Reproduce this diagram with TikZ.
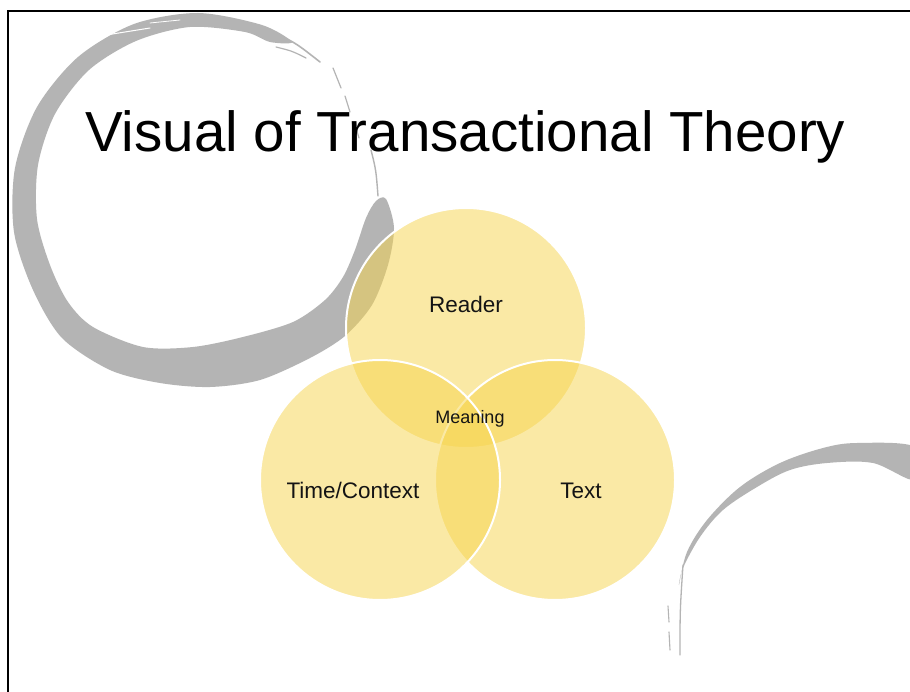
\documentclass[tikz,border=0pt]{standalone}
\usepackage{fontspec}
\setmainfont{Liberation Sans}
\definecolor{ringgray}{RGB}{180,180,180}
\definecolor{venn}{RGB}{247,213,77}
\definecolor{txt}{RGB}{20,20,20}
\begin{document}
\begin{tikzpicture}[x=1pt,y=-1pt,
  venncirc/.style={circle, minimum size=240pt, inner sep=0pt, fill=venn, fill opacity=0.5, draw=white, line width=2pt},
  lbl/.style={anchor=base, inner sep=0pt, text=txt, font=\fontsize{22.5}{26}\selectfont},
  streak/.style={ringgray, line cap=round}]
\useasboundingbox (0,0) rectangle (910,692);
\fill[white] (0,0) rectangle (910,692);
\clip (0,0) rectangle (910,692);
% big brush ring (top left)
\fill[ringgray] plot[smooth cycle, tension=0.5] coordinates {
 (292,42) (262,25) (198,13) (134,24) (78,57) (37,107) (15,168) (14,232) (33,290) (62,338)
 (110,370) (160,383) (210,387) (260,380) (310,358) (345,336) (372,305) (388,265) (394,228) (386,199)
 (376,201) (366,218) (355,250) (343,277) (325,300) (293,322) (243,337) (193,347) (143,347)
 (93,327) (68,302) (50,265) (37,219) (38,165) (55,114) (89,70) (136,41) (190,27) (245,32) (270,42)};
\draw[white, line width=1pt, line cap=round] (100,36) -- (150,28);
\draw[white, line width=0.8pt, line cap=round] (150,23) -- (180,20);
\draw[streak, line width=1.6pt] (262,30) .. controls (292,40) .. (320,62);
\draw[streak, line width=1.2pt] (276,47) .. controls (292,51) .. (306,58);
\draw[streak, line width=1.2pt] (333,68) -- (341,88);
\draw[streak, line width=1.2pt] (345,96) -- (350,112);
\draw[streak, line width=1.2pt] (356,128) -- (359,138);
\draw[streak, line width=1.4pt] (371,150) .. controls (376,170) .. (378,196);
% bottom right brush arc
\fill[ringgray] plot[smooth cycle, tension=0.55] coordinates {
 (915,447) (857,443) (823,448) (780,463) (740,487) (707,520) (687,552) (679,585)
 (683,568) (700,537) (723,510) (757,487) (790,470) (827,463) (873,463) (915,480)};
\draw[white, line width=0.8pt, line cap=round] (763,485) -- (803,469);
\draw[streak, line width=1.3pt] (683,565) .. controls (680,610) .. (680,655);
\draw[streak, line width=1.1pt] (668,606) -- (669,622);
\draw[streak, line width=1.1pt] (669,632) -- (670,650);
% frame
\draw[black, line width=2.5pt] (8,692) -- (8,11) -- (910,11);
% title
\node[anchor=base west, inner sep=0pt, text=black, font=\fontsize{56.5}{62}\selectfont] (title) at (85,152) {Visual of Transactional Theory};
% venn circles
\node[venncirc] (reader) at (466,328) {};
\node[venncirc] (text) at (555,480) {};
\node[venncirc] (time) at (380,480) {};
% labels
\node[lbl] (lreader) at (466,313) {Reader};
\node[lbl] (ltime) at (353,498) {Time/Context};
\node[lbl] (ltext) at (581,498) {Text};
\node[lbl, font=\fontsize{18}{21}\selectfont] (lmeaning) at (470,423) {Meaning};
\end{tikzpicture}
\end{document}
